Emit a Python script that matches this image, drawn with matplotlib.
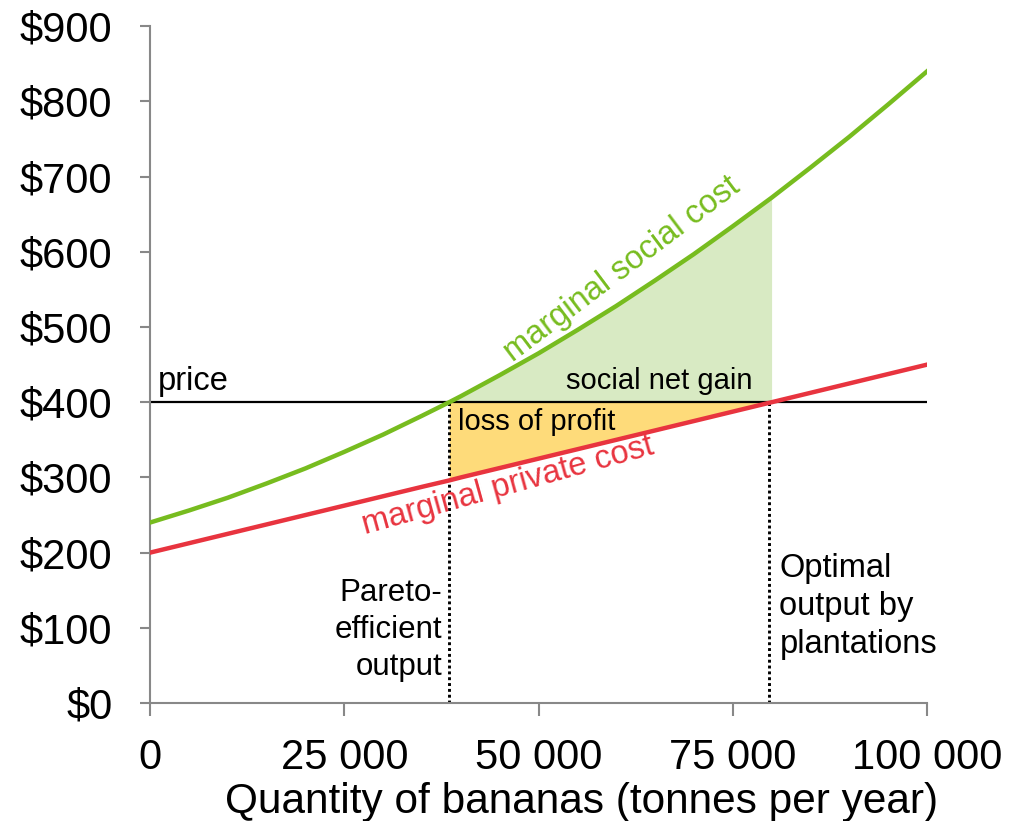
import matplotlib.pyplot as plt
import numpy as np

plt.rcParams['font.family'] = ['Liberation Sans', 'DejaVu Sans']

# quantities (tonnes per year) and costs
quantity = [0, 5000, 10000, 15000, 20000, 25000, 30000, 35000, 38500, 40000, 45000,
            50000, 55000, 60000, 65000, 70000, 75000, 80000, 85000, 90000, 95000, 100000]
social_cost = [240, 256, 273, 292, 312, 334, 357, 382, 400, 408, 436,
               465, 496, 528, 562, 597, 634, 672, 712, 753, 796, 840]
private_cost = [200, 212.5, 225, 237.5, 250, 262.5, 275, 287.5, 296, 300, 312.5,
                325, 337.5, 350, 362.5, 375, 387.5, 400, 412.5, 425, 437.5, 450]
price = 400
pareto_q = 38500
plantation_q = 80000

y_ticks = [0, 100, 200, 300, 400, 500, 600, 700, 800, 900]
x_ticks = [0, 25000, 50000, 75000, 100000]
x_labels = ['0', '25 000', '50 000', '75 000', '100 000']

green = '#77bc1f'
red = '#e8343f'

q = np.array(quantity)
msc = np.array(social_cost)
mpc = np.array(private_cost)
mask = (q >= pareto_q) & (q <= plantation_q)

fig = plt.figure(figsize=(10.09, 8.21), dpi=100)
ax = fig.add_axes([0.1487, 0.1437, 0.77, 0.8243])

ax.fill_between(q, price, msc, where=mask, color='#d8eac3', lw=0, zorder=1)
ax.fill_between(q, mpc, price, where=mask, color='#fedb7a', lw=0, zorder=1)

ax.plot([0, 100000], [price, price], color='black', lw=1.6, zorder=2)
ax.plot([pareto_q, pareto_q], [0, price], color='black', lw=2.1, ls=(0, (1, 1)), zorder=2)
ax.plot([plantation_q - 300, plantation_q - 300], [0, price], color='black', lw=2.1,
        ls=(0, (1, 1)), zorder=2)

ax.plot(q, msc, color=green, lw=3.2, zorder=3)
ax.plot(q, mpc, color=red, lw=3.2, zorder=3)

ax.set_xlim(0, 100000)
ax.set_ylim(0, 900)
ax.set_xticks(x_ticks)
ax.set_xticklabels(x_labels)
ax.set_yticks(y_ticks)
ax.set_yticklabels(['$' + str(v) for v in y_ticks])
for s in ['top', 'right']:
    ax.spines[s].set_visible(False)
for s in ['left', 'bottom']:
    ax.spines[s].set_color('#888888')
    ax.spines[s].set_linewidth(1.5)
ax.tick_params(axis='y', colors='#888888', length=7, width=1.5, pad=20, labelsize=30, labelcolor='black')
ax.tick_params(axis='x', colors='#888888', length=9, width=1.5, pad=16, labelsize=30, labelcolor='black')
ax.set_xlabel('Quantity of bananas (tonnes per year)', fontsize=30.5, labelpad=0)
ax.xaxis.set_label_coords(0.555, -0.116)

ax.text(1000, 407, 'price', fontsize=23.5, va='bottom', ha='left')
ax.text(77500, 410, 'social net gain', fontsize=21, va='bottom', ha='right')
ax.text(39700, 392, 'loss of profit', fontsize=21, va='top', ha='left')
ax.text(62000, 560, 'marginal social cost', fontsize=23.5, color=green,
        rotation=37, rotation_mode='anchor', ha='center', va='bottom')
ax.text(45500, 309, 'marginal private cost', fontsize=23.5, color=red,
        rotation=15.5, rotation_mode='anchor', ha='center', va='top')
ax.text(37600, 166, 'Pareto-\nefficient\noutput', fontsize=22.5, ha='right', va='top',
        multialignment='right', linespacing=1.3)
ax.text(81000, 200, 'Optimal\noutput by\nplantations', fontsize=23.5, ha='left', va='top',
        linespacing=1.3)

fig.savefig('out.png', dpi=100)
